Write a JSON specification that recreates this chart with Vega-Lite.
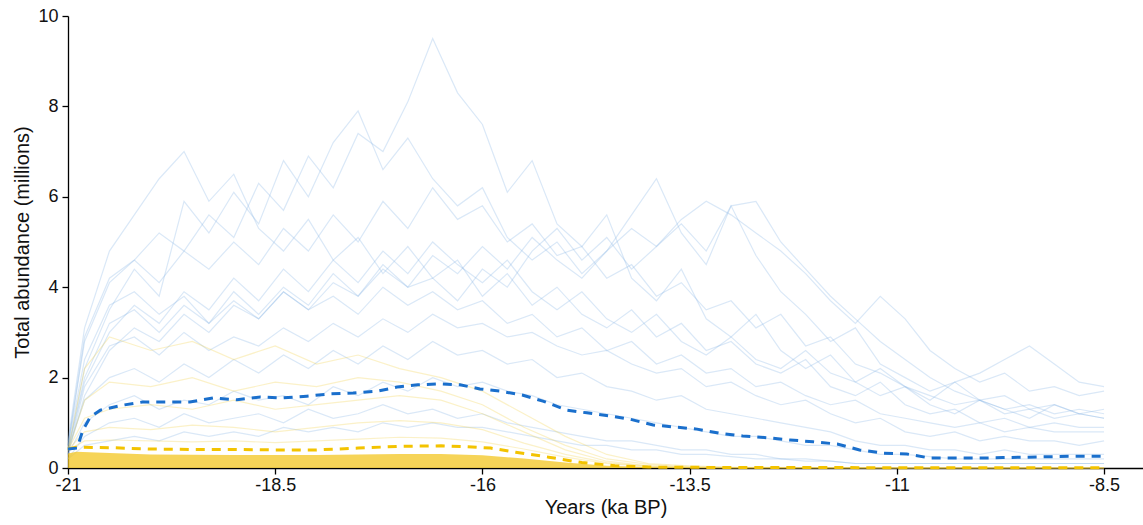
{
 "$schema": "https://vega.github.io/schema/vega-lite/v6.json",
 "width": 1075, "height": 452,
 "autosize": {"type": "none"},
 "padding": {"left": 68, "top": 16, "right": 0, "bottom": 57},
 "background": "white",
 "config": {"view": {"stroke": null}, "font": "Liberation Sans",
  "axis": {"domainColor": "#000", "tickColor": "#000", "labelColor": "#111", "titleColor": "#111", "grid": false, "labelFontSize": 18, "titleFontSize": 20, "titleFontWeight": "normal", "tickSize": 6, "domainWidth": 1.3, "tickWidth": 1.3}},
 "datasets": {
  "blue": [
{"g":"b1","x":-21,"y":0.5},{"g":"b1","x":-20.8,"y":2.8},{"g":"b1","x":-20.5,"y":4.1},{"g":"b1","x":-20.2,"y":4.6},{"g":"b1","x":-19.9,"y":5.2},{"g":"b1","x":-19.6,"y":4.8},{"g":"b1","x":-19.3,"y":5.6},{"g":"b1","x":-19,"y":5.1},{"g":"b1","x":-18.7,"y":6.3},{"g":"b1","x":-18.4,"y":5.7},{"g":"b1","x":-18.1,"y":6.9},{"g":"b1","x":-17.8,"y":6.2},{"g":"b1","x":-17.5,"y":7.4},{"g":"b1","x":-17.2,"y":7.0},{"g":"b1","x":-16.9,"y":8.1},{"g":"b1","x":-16.6,"y":9.5},{"g":"b1","x":-16.3,"y":8.3},{"g":"b1","x":-16,"y":7.6},{"g":"b1","x":-15.7,"y":6.1},{"g":"b1","x":-15.4,"y":6.8},{"g":"b1","x":-15.1,"y":5.4},{"g":"b1","x":-14.8,"y":4.9},{"g":"b1","x":-14.5,"y":5.6},{"g":"b1","x":-14.2,"y":4.2},{"g":"b1","x":-13.9,"y":3.7},{"g":"b1","x":-13.6,"y":4.4},{"g":"b1","x":-13.3,"y":3.3},{"g":"b1","x":-13,"y":2.9},{"g":"b1","x":-12.7,"y":3.4},{"g":"b1","x":-12.4,"y":2.6},{"g":"b1","x":-12.1,"y":2.2},{"g":"b1","x":-11.8,"y":2.5},{"g":"b1","x":-11.5,"y":1.9},{"g":"b1","x":-11.2,"y":1.6},{"g":"b1","x":-10.9,"y":1.8},{"g":"b1","x":-10.6,"y":1.4},{"g":"b1","x":-10.3,"y":1.2},{"g":"b1","x":-10,"y":1.5},{"g":"b1","x":-9.7,"y":1.3},{"g":"b1","x":-9.4,"y":1.1},{"g":"b1","x":-9.1,"y":1.4},{"g":"b1","x":-8.8,"y":1.2},{"g":"b1","x":-8.5,"y":1.3},
{"g":"b2","x":-21,"y":0.4},{"g":"b2","x":-20.8,"y":2.2},{"g":"b2","x":-20.5,"y":3.5},{"g":"b2","x":-20.2,"y":4.4},{"g":"b2","x":-19.9,"y":3.8},{"g":"b2","x":-19.6,"y":5.9},{"g":"b2","x":-19.3,"y":5.2},{"g":"b2","x":-19,"y":6.1},{"g":"b2","x":-18.7,"y":5.4},{"g":"b2","x":-18.4,"y":6.8},{"g":"b2","x":-18.1,"y":6.0},{"g":"b2","x":-17.8,"y":7.2},{"g":"b2","x":-17.5,"y":7.9},{"g":"b2","x":-17.2,"y":6.6},{"g":"b2","x":-16.9,"y":7.3},{"g":"b2","x":-16.6,"y":6.4},{"g":"b2","x":-16.3,"y":5.8},{"g":"b2","x":-16,"y":6.2},{"g":"b2","x":-15.7,"y":5.1},{"g":"b2","x":-15.4,"y":4.6},{"g":"b2","x":-15.1,"y":5.0},{"g":"b2","x":-14.8,"y":4.3},{"g":"b2","x":-14.5,"y":4.8},{"g":"b2","x":-14.2,"y":5.6},{"g":"b2","x":-13.9,"y":6.4},{"g":"b2","x":-13.6,"y":5.2},{"g":"b2","x":-13.3,"y":4.5},{"g":"b2","x":-13,"y":5.8},{"g":"b2","x":-12.7,"y":4.7},{"g":"b2","x":-12.4,"y":3.9},{"g":"b2","x":-12.1,"y":3.4},{"g":"b2","x":-11.8,"y":2.8},{"g":"b2","x":-11.5,"y":3.1},{"g":"b2","x":-11.2,"y":2.3},{"g":"b2","x":-10.9,"y":2.0},{"g":"b2","x":-10.6,"y":1.7},{"g":"b2","x":-10.3,"y":1.9},{"g":"b2","x":-10,"y":1.5},{"g":"b2","x":-9.7,"y":1.6},{"g":"b2","x":-9.4,"y":1.3},{"g":"b2","x":-9.1,"y":1.4},{"g":"b2","x":-8.8,"y":1.2},{"g":"b2","x":-8.5,"y":1.1},
{"g":"b3","x":-21,"y":0.6},{"g":"b3","x":-20.8,"y":3.1},{"g":"b3","x":-20.5,"y":4.8},{"g":"b3","x":-20.2,"y":5.6},{"g":"b3","x":-19.9,"y":6.4},{"g":"b3","x":-19.6,"y":7.0},{"g":"b3","x":-19.3,"y":5.9},{"g":"b3","x":-19,"y":6.5},{"g":"b3","x":-18.7,"y":5.3},{"g":"b3","x":-18.4,"y":4.8},{"g":"b3","x":-18.1,"y":5.5},{"g":"b3","x":-17.8,"y":4.6},{"g":"b3","x":-17.5,"y":5.1},{"g":"b3","x":-17.2,"y":4.3},{"g":"b3","x":-16.9,"y":4.9},{"g":"b3","x":-16.6,"y":4.2},{"g":"b3","x":-16.3,"y":4.6},{"g":"b3","x":-16,"y":3.8},{"g":"b3","x":-15.7,"y":4.3},{"g":"b3","x":-15.4,"y":3.6},{"g":"b3","x":-15.1,"y":4.0},{"g":"b3","x":-14.8,"y":3.4},{"g":"b3","x":-14.5,"y":3.1},{"g":"b3","x":-14.2,"y":3.5},{"g":"b3","x":-13.9,"y":2.9},{"g":"b3","x":-13.6,"y":3.2},{"g":"b3","x":-13.3,"y":2.6},{"g":"b3","x":-13,"y":2.8},{"g":"b3","x":-12.7,"y":2.3},{"g":"b3","x":-12.4,"y":2.1},{"g":"b3","x":-12.1,"y":2.4},{"g":"b3","x":-11.8,"y":1.8},{"g":"b3","x":-11.5,"y":1.6},{"g":"b3","x":-11.2,"y":1.9},{"g":"b3","x":-10.9,"y":1.4},{"g":"b3","x":-10.6,"y":1.2},{"g":"b3","x":-10.3,"y":1.3},{"g":"b3","x":-10,"y":1.0},{"g":"b3","x":-9.7,"y":1.1},{"g":"b3","x":-9.4,"y":0.9},{"g":"b3","x":-9.1,"y":1.0},{"g":"b3","x":-8.8,"y":0.9},{"g":"b3","x":-8.5,"y":0.9},
{"g":"b4","x":-21,"y":0.3},{"g":"b4","x":-20.8,"y":1.6},{"g":"b4","x":-20.5,"y":2.6},{"g":"b4","x":-20.2,"y":3.1},{"g":"b4","x":-19.9,"y":2.8},{"g":"b4","x":-19.6,"y":3.4},{"g":"b4","x":-19.3,"y":3.0},{"g":"b4","x":-19,"y":3.6},{"g":"b4","x":-18.7,"y":3.3},{"g":"b4","x":-18.4,"y":3.9},{"g":"b4","x":-18.1,"y":3.5},{"g":"b4","x":-17.8,"y":4.1},{"g":"b4","x":-17.5,"y":3.8},{"g":"b4","x":-17.2,"y":4.4},{"g":"b4","x":-16.9,"y":4.0},{"g":"b4","x":-16.6,"y":4.7},{"g":"b4","x":-16.3,"y":4.3},{"g":"b4","x":-16,"y":4.9},{"g":"b4","x":-15.7,"y":4.4},{"g":"b4","x":-15.4,"y":5.1},{"g":"b4","x":-15.1,"y":4.6},{"g":"b4","x":-14.8,"y":4.2},{"g":"b4","x":-14.5,"y":4.8},{"g":"b4","x":-14.2,"y":5.3},{"g":"b4","x":-13.9,"y":4.9},{"g":"b4","x":-13.6,"y":5.5},{"g":"b4","x":-13.3,"y":5.9},{"g":"b4","x":-13,"y":5.6},{"g":"b4","x":-12.7,"y":5.2},{"g":"b4","x":-12.4,"y":4.8},{"g":"b4","x":-12.1,"y":4.3},{"g":"b4","x":-11.8,"y":3.7},{"g":"b4","x":-11.5,"y":3.2},{"g":"b4","x":-11.2,"y":3.8},{"g":"b4","x":-10.9,"y":3.3},{"g":"b4","x":-10.6,"y":2.6},{"g":"b4","x":-10.3,"y":2.2},{"g":"b4","x":-10,"y":1.9},{"g":"b4","x":-9.7,"y":2.1},{"g":"b4","x":-9.4,"y":1.7},{"g":"b4","x":-9.1,"y":1.8},{"g":"b4","x":-8.8,"y":1.6},{"g":"b4","x":-8.5,"y":1.7},
{"g":"b5","x":-21,"y":0.4},{"g":"b5","x":-20.8,"y":1.9},{"g":"b5","x":-20.5,"y":3.0},{"g":"b5","x":-20.2,"y":3.6},{"g":"b5","x":-19.9,"y":3.2},{"g":"b5","x":-19.6,"y":3.9},{"g":"b5","x":-19.3,"y":3.5},{"g":"b5","x":-19,"y":4.2},{"g":"b5","x":-18.7,"y":3.7},{"g":"b5","x":-18.4,"y":4.4},{"g":"b5","x":-18.1,"y":3.9},{"g":"b5","x":-17.8,"y":4.6},{"g":"b5","x":-17.5,"y":4.1},{"g":"b5","x":-17.2,"y":4.8},{"g":"b5","x":-16.9,"y":4.3},{"g":"b5","x":-16.6,"y":5.0},{"g":"b5","x":-16.3,"y":4.5},{"g":"b5","x":-16,"y":4.1},{"g":"b5","x":-15.7,"y":4.6},{"g":"b5","x":-15.4,"y":3.9},{"g":"b5","x":-15.1,"y":3.5},{"g":"b5","x":-14.8,"y":3.9},{"g":"b5","x":-14.5,"y":3.3},{"g":"b5","x":-14.2,"y":3.0},{"g":"b5","x":-13.9,"y":3.4},{"g":"b5","x":-13.6,"y":2.8},{"g":"b5","x":-13.3,"y":2.5},{"g":"b5","x":-13,"y":2.9},{"g":"b5","x":-12.7,"y":2.4},{"g":"b5","x":-12.4,"y":2.2},{"g":"b5","x":-12.1,"y":2.6},{"g":"b5","x":-11.8,"y":2.1},{"g":"b5","x":-11.5,"y":1.9},{"g":"b5","x":-11.2,"y":2.2},{"g":"b5","x":-10.9,"y":1.8},{"g":"b5","x":-10.6,"y":1.5},{"g":"b5","x":-10.3,"y":1.9},{"g":"b5","x":-10,"y":2.1},{"g":"b5","x":-9.7,"y":2.4},{"g":"b5","x":-9.4,"y":2.7},{"g":"b5","x":-9.1,"y":2.3},{"g":"b5","x":-8.8,"y":1.9},{"g":"b5","x":-8.5,"y":1.8},
{"g":"b6","x":-21,"y":0.5},{"g":"b6","x":-20.8,"y":2.4},{"g":"b6","x":-20.5,"y":3.6},{"g":"b6","x":-20.2,"y":3.9},{"g":"b6","x":-19.9,"y":3.4},{"g":"b6","x":-19.6,"y":3.8},{"g":"b6","x":-19.3,"y":3.2},{"g":"b6","x":-19,"y":3.7},{"g":"b6","x":-18.7,"y":3.3},{"g":"b6","x":-18.4,"y":3.9},{"g":"b6","x":-18.1,"y":3.5},{"g":"b6","x":-17.8,"y":3.8},{"g":"b6","x":-17.5,"y":3.4},{"g":"b6","x":-17.2,"y":4.0},{"g":"b6","x":-16.9,"y":3.6},{"g":"b6","x":-16.6,"y":3.9},{"g":"b6","x":-16.3,"y":3.5},{"g":"b6","x":-16,"y":3.7},{"g":"b6","x":-15.7,"y":3.2},{"g":"b6","x":-15.4,"y":3.4},{"g":"b6","x":-15.1,"y":2.9},{"g":"b6","x":-14.8,"y":3.1},{"g":"b6","x":-14.5,"y":2.6},{"g":"b6","x":-14.2,"y":2.8},{"g":"b6","x":-13.9,"y":2.3},{"g":"b6","x":-13.6,"y":2.5},{"g":"b6","x":-13.3,"y":2.1},{"g":"b6","x":-13,"y":2.2},{"g":"b6","x":-12.7,"y":1.8},{"g":"b6","x":-12.4,"y":1.9},{"g":"b6","x":-12.1,"y":1.6},{"g":"b6","x":-11.8,"y":1.4},{"g":"b6","x":-11.5,"y":1.5},{"g":"b6","x":-11.2,"y":1.2},{"g":"b6","x":-10.9,"y":1.1},{"g":"b6","x":-10.6,"y":1.0},{"g":"b6","x":-10.3,"y":0.9},{"g":"b6","x":-10,"y":1.0},{"g":"b6","x":-9.7,"y":0.8},{"g":"b6","x":-9.4,"y":0.9},{"g":"b6","x":-9.1,"y":0.8},{"g":"b6","x":-8.8,"y":0.8},{"g":"b6","x":-8.5,"y":0.8},
{"g":"b7","x":-21,"y":0.3},{"g":"b7","x":-20.8,"y":1.8},{"g":"b7","x":-20.5,"y":2.7},{"g":"b7","x":-20.2,"y":2.9},{"g":"b7","x":-19.9,"y":2.5},{"g":"b7","x":-19.6,"y":3.0},{"g":"b7","x":-19.3,"y":2.6},{"g":"b7","x":-19,"y":2.9},{"g":"b7","x":-18.7,"y":2.7},{"g":"b7","x":-18.4,"y":3.1},{"g":"b7","x":-18.1,"y":2.8},{"g":"b7","x":-17.8,"y":3.2},{"g":"b7","x":-17.5,"y":2.9},{"g":"b7","x":-17.2,"y":3.3},{"g":"b7","x":-16.9,"y":3.0},{"g":"b7","x":-16.6,"y":3.4},{"g":"b7","x":-16.3,"y":3.1},{"g":"b7","x":-16,"y":3.2},{"g":"b7","x":-15.7,"y":2.9},{"g":"b7","x":-15.4,"y":3.0},{"g":"b7","x":-15.1,"y":2.7},{"g":"b7","x":-14.8,"y":2.5},{"g":"b7","x":-14.5,"y":2.6},{"g":"b7","x":-14.2,"y":2.3},{"g":"b7","x":-13.9,"y":2.1},{"g":"b7","x":-13.6,"y":2.2},{"g":"b7","x":-13.3,"y":1.8},{"g":"b7","x":-13,"y":1.9},{"g":"b7","x":-12.7,"y":1.6},{"g":"b7","x":-12.4,"y":1.4},{"g":"b7","x":-12.1,"y":1.5},{"g":"b7","x":-11.8,"y":1.2},{"g":"b7","x":-11.5,"y":1.0},{"g":"b7","x":-11.2,"y":1.1},{"g":"b7","x":-10.9,"y":0.8},{"g":"b7","x":-10.6,"y":0.7},{"g":"b7","x":-10.3,"y":0.8},{"g":"b7","x":-10,"y":0.6},{"g":"b7","x":-9.7,"y":0.7},{"g":"b7","x":-9.4,"y":0.6},{"g":"b7","x":-9.1,"y":0.6},{"g":"b7","x":-8.8,"y":0.5},{"g":"b7","x":-8.5,"y":0.6},
{"g":"b8","x":-21,"y":0.4},{"g":"b8","x":-20.8,"y":1.5},{"g":"b8","x":-20.5,"y":2.0},{"g":"b8","x":-20.2,"y":2.2},{"g":"b8","x":-19.9,"y":1.9},{"g":"b8","x":-19.6,"y":2.3},{"g":"b8","x":-19.3,"y":2.0},{"g":"b8","x":-19,"y":2.4},{"g":"b8","x":-18.7,"y":2.1},{"g":"b8","x":-18.4,"y":2.5},{"g":"b8","x":-18.1,"y":2.2},{"g":"b8","x":-17.8,"y":2.6},{"g":"b8","x":-17.5,"y":2.3},{"g":"b8","x":-17.2,"y":2.7},{"g":"b8","x":-16.9,"y":2.4},{"g":"b8","x":-16.6,"y":2.8},{"g":"b8","x":-16.3,"y":2.5},{"g":"b8","x":-16,"y":2.6},{"g":"b8","x":-15.7,"y":2.3},{"g":"b8","x":-15.4,"y":2.4},{"g":"b8","x":-15.1,"y":2.0},{"g":"b8","x":-14.8,"y":2.1},{"g":"b8","x":-14.5,"y":1.8},{"g":"b8","x":-14.2,"y":1.7},{"g":"b8","x":-13.9,"y":1.5},{"g":"b8","x":-13.6,"y":1.6},{"g":"b8","x":-13.3,"y":1.3},{"g":"b8","x":-13,"y":1.2},{"g":"b8","x":-12.7,"y":1.1},{"g":"b8","x":-12.4,"y":1.0},{"g":"b8","x":-12.1,"y":0.9},{"g":"b8","x":-11.8,"y":0.8},{"g":"b8","x":-11.5,"y":0.6},{"g":"b8","x":-11.2,"y":0.5},{"g":"b8","x":-10.9,"y":0.5},{"g":"b8","x":-10.6,"y":0.4},{"g":"b8","x":-10.3,"y":0.4},{"g":"b8","x":-10,"y":0.3},{"g":"b8","x":-9.7,"y":0.4},{"g":"b8","x":-9.4,"y":0.3},{"g":"b8","x":-9.1,"y":0.3},{"g":"b8","x":-8.8,"y":0.3},{"g":"b8","x":-8.5,"y":0.3},
{"g":"b9","x":-21,"y":0.3},{"g":"b9","x":-20.8,"y":1.0},{"g":"b9","x":-20.5,"y":1.4},{"g":"b9","x":-20.2,"y":1.6},{"g":"b9","x":-19.9,"y":1.3},{"g":"b9","x":-19.6,"y":1.5},{"g":"b9","x":-19.3,"y":1.4},{"g":"b9","x":-19,"y":1.7},{"g":"b9","x":-18.7,"y":1.5},{"g":"b9","x":-18.4,"y":1.6},{"g":"b9","x":-18.1,"y":1.4},{"g":"b9","x":-17.8,"y":1.8},{"g":"b9","x":-17.5,"y":1.6},{"g":"b9","x":-17.2,"y":1.9},{"g":"b9","x":-16.9,"y":1.7},{"g":"b9","x":-16.6,"y":2.0},{"g":"b9","x":-16.3,"y":1.8},{"g":"b9","x":-16,"y":1.9},{"g":"b9","x":-15.7,"y":1.7},{"g":"b9","x":-15.4,"y":1.6},{"g":"b9","x":-15.1,"y":1.4},{"g":"b9","x":-14.8,"y":1.3},{"g":"b9","x":-14.5,"y":1.2},{"g":"b9","x":-14.2,"y":1.1},{"g":"b9","x":-13.9,"y":1.0},{"g":"b9","x":-13.6,"y":0.9},{"g":"b9","x":-13.3,"y":0.8},{"g":"b9","x":-13,"y":0.7},{"g":"b9","x":-12.7,"y":0.7},{"g":"b9","x":-12.4,"y":0.6},{"g":"b9","x":-12.1,"y":0.5},{"g":"b9","x":-11.8,"y":0.5},{"g":"b9","x":-11.5,"y":0.4},{"g":"b9","x":-11.2,"y":0.3},{"g":"b9","x":-10.9,"y":0.3},{"g":"b9","x":-10.6,"y":0.25},{"g":"b9","x":-10.3,"y":0.2},{"g":"b9","x":-10,"y":0.2},{"g":"b9","x":-9.7,"y":0.2},{"g":"b9","x":-9.4,"y":0.2},{"g":"b9","x":-9.1,"y":0.2},{"g":"b9","x":-8.8,"y":0.2},{"g":"b9","x":-8.5,"y":0.2},
{"g":"b10","x":-21,"y":0.2},{"g":"b10","x":-20.8,"y":0.7},{"g":"b10","x":-20.5,"y":1.0},{"g":"b10","x":-20.2,"y":1.1},{"g":"b10","x":-19.9,"y":0.9},{"g":"b10","x":-19.6,"y":1.2},{"g":"b10","x":-19.3,"y":1.0},{"g":"b10","x":-19,"y":1.1},{"g":"b10","x":-18.7,"y":1.2},{"g":"b10","x":-18.4,"y":1.0},{"g":"b10","x":-18.1,"y":1.3},{"g":"b10","x":-17.8,"y":1.1},{"g":"b10","x":-17.5,"y":1.2},{"g":"b10","x":-17.2,"y":1.4},{"g":"b10","x":-16.9,"y":1.2},{"g":"b10","x":-16.6,"y":1.3},{"g":"b10","x":-16.3,"y":1.1},{"g":"b10","x":-16,"y":1.2},{"g":"b10","x":-15.7,"y":1.0},{"g":"b10","x":-15.4,"y":0.9},{"g":"b10","x":-15.1,"y":0.8},{"g":"b10","x":-14.8,"y":0.7},{"g":"b10","x":-14.5,"y":0.6},{"g":"b10","x":-14.2,"y":0.6},{"g":"b10","x":-13.9,"y":0.5},{"g":"b10","x":-13.6,"y":0.4},{"g":"b10","x":-13.3,"y":0.4},{"g":"b10","x":-13,"y":0.3},{"g":"b10","x":-12.7,"y":0.3},{"g":"b10","x":-12.4,"y":0.2},{"g":"b10","x":-12.1,"y":0.2},{"g":"b10","x":-11.8,"y":0.15},{"g":"b10","x":-11.5,"y":0.1},{"g":"b10","x":-11.2,"y":0.1},{"g":"b10","x":-10.9,"y":0.1},{"g":"b10","x":-10.6,"y":0.1},{"g":"b10","x":-10.3,"y":0.1},{"g":"b10","x":-10,"y":0.1},{"g":"b10","x":-9.7,"y":0.1},{"g":"b10","x":-9.4,"y":0.1},{"g":"b10","x":-9.1,"y":0.1},{"g":"b10","x":-8.8,"y":0.1},{"g":"b10","x":-8.5,"y":0.1},
{"g":"b11","x":-21,"y":0.5},{"g":"b11","x":-20.8,"y":2.9},{"g":"b11","x":-20.5,"y":4.2},{"g":"b11","x":-20.2,"y":4.6},{"g":"b11","x":-19.9,"y":4.1},{"g":"b11","x":-19.6,"y":4.8},{"g":"b11","x":-19.3,"y":4.4},{"g":"b11","x":-19,"y":5.0},{"g":"b11","x":-18.7,"y":4.5},{"g":"b11","x":-18.4,"y":5.3},{"g":"b11","x":-18.1,"y":4.8},{"g":"b11","x":-17.8,"y":5.6},{"g":"b11","x":-17.5,"y":5.0},{"g":"b11","x":-17.2,"y":5.9},{"g":"b11","x":-16.9,"y":5.3},{"g":"b11","x":-16.6,"y":6.2},{"g":"b11","x":-16.3,"y":5.5},{"g":"b11","x":-16,"y":5.8},{"g":"b11","x":-15.7,"y":5.0},{"g":"b11","x":-15.4,"y":5.4},{"g":"b11","x":-15.1,"y":4.7},{"g":"b11","x":-14.8,"y":4.9},{"g":"b11","x":-14.5,"y":4.2},{"g":"b11","x":-14.2,"y":4.5},{"g":"b11","x":-13.9,"y":3.8},{"g":"b11","x":-13.6,"y":4.1},{"g":"b11","x":-13.3,"y":3.5},{"g":"b11","x":-13,"y":3.7},{"g":"b11","x":-12.7,"y":3.1},{"g":"b11","x":-12.4,"y":3.4},{"g":"b11","x":-12.1,"y":2.7},{"g":"b11","x":-11.8,"y":2.9},{"g":"b11","x":-11.5,"y":2.3},{"g":"b11","x":-11.2,"y":2.1},{"g":"b11","x":-10.9,"y":1.8},{"g":"b11","x":-10.6,"y":1.6},{"g":"b11","x":-10.3,"y":1.4},{"g":"b11","x":-10,"y":1.5},{"g":"b11","x":-9.7,"y":1.2},{"g":"b11","x":-9.4,"y":1.3},{"g":"b11","x":-9.1,"y":1.1},{"g":"b11","x":-8.8,"y":1.2},{"g":"b11","x":-8.5,"y":1.1},
{"g":"b12","x":-21,"y":0.4},{"g":"b12","x":-20.8,"y":2.0},{"g":"b12","x":-20.5,"y":3.2},{"g":"b12","x":-20.2,"y":3.5},{"g":"b12","x":-19.9,"y":3.0},{"g":"b12","x":-19.6,"y":3.6},{"g":"b12","x":-19.3,"y":3.2},{"g":"b12","x":-19,"y":3.9},{"g":"b12","x":-18.7,"y":3.4},{"g":"b12","x":-18.4,"y":4.0},{"g":"b12","x":-18.1,"y":3.6},{"g":"b12","x":-17.8,"y":4.3},{"g":"b12","x":-17.5,"y":3.8},{"g":"b12","x":-17.2,"y":4.5},{"g":"b12","x":-16.9,"y":4.0},{"g":"b12","x":-16.6,"y":4.2},{"g":"b12","x":-16.3,"y":3.7},{"g":"b12","x":-16,"y":4.4},{"g":"b12","x":-15.7,"y":4.0},{"g":"b12","x":-15.4,"y":4.8},{"g":"b12","x":-15.1,"y":5.3},{"g":"b12","x":-14.8,"y":4.6},{"g":"b12","x":-14.5,"y":5.1},{"g":"b12","x":-14.2,"y":4.4},{"g":"b12","x":-13.9,"y":4.9},{"g":"b12","x":-13.6,"y":5.4},{"g":"b12","x":-13.3,"y":4.8},{"g":"b12","x":-13,"y":5.8},{"g":"b12","x":-12.7,"y":5.9},{"g":"b12","x":-12.4,"y":5.0},{"g":"b12","x":-12.1,"y":4.4},{"g":"b12","x":-11.8,"y":3.8},{"g":"b12","x":-11.5,"y":3.3},{"g":"b12","x":-11.2,"y":2.8},{"g":"b12","x":-10.9,"y":2.4},{"g":"b12","x":-10.6,"y":2.0},{"g":"b12","x":-10.3,"y":1.7},{"g":"b12","x":-10,"y":1.5},{"g":"b12","x":-9.7,"y":1.3},{"g":"b12","x":-9.4,"y":1.4},{"g":"b12","x":-9.1,"y":1.2},{"g":"b12","x":-8.8,"y":1.3},{"g":"b12","x":-8.5,"y":1.2},
{"g":"b13","x":-21,"y":0.2},{"g":"b13","x":-20.8,"y":0.5},{"g":"b13","x":-20.5,"y":0.6},{"g":"b13","x":-20.2,"y":0.7},{"g":"b13","x":-19.9,"y":0.6},{"g":"b13","x":-19.6,"y":0.8},{"g":"b13","x":-19.3,"y":0.7},{"g":"b13","x":-19,"y":0.8},{"g":"b13","x":-18.7,"y":0.7},{"g":"b13","x":-18.4,"y":0.9},{"g":"b13","x":-18.1,"y":0.8},{"g":"b13","x":-17.8,"y":0.9},{"g":"b13","x":-17.5,"y":0.8},{"g":"b13","x":-17.2,"y":1.0},{"g":"b13","x":-16.9,"y":0.9},{"g":"b13","x":-16.6,"y":1.0},{"g":"b13","x":-16.3,"y":0.9},{"g":"b13","x":-16,"y":0.9},{"g":"b13","x":-15.7,"y":0.8},{"g":"b13","x":-15.4,"y":0.7},{"g":"b13","x":-15.1,"y":0.6},{"g":"b13","x":-14.8,"y":0.5},{"g":"b13","x":-14.5,"y":0.5},{"g":"b13","x":-14.2,"y":0.4},{"g":"b13","x":-13.9,"y":0.4},{"g":"b13","x":-13.6,"y":0.3},{"g":"b13","x":-13.3,"y":0.3},{"g":"b13","x":-13,"y":0.25},{"g":"b13","x":-12.7,"y":0.2},{"g":"b13","x":-12.4,"y":0.2},{"g":"b13","x":-12.1,"y":0.15},{"g":"b13","x":-11.8,"y":0.15},{"g":"b13","x":-11.5,"y":0.1},{"g":"b13","x":-11.2,"y":0.1},{"g":"b13","x":-10.9,"y":0.1},{"g":"b13","x":-10.6,"y":0.1},{"g":"b13","x":-10.3,"y":0.1},{"g":"b13","x":-10,"y":0.1},{"g":"b13","x":-9.7,"y":0.1},{"g":"b13","x":-9.4,"y":0.1},{"g":"b13","x":-9.1,"y":0.1},{"g":"b13","x":-8.8,"y":0.1},{"g":"b13","x":-8.5,"y":0.1}
  ],
  "yellow": [
{"g":"y1","x":-21,"y":0.4},{"g":"y1","x":-20.8,"y":2.2},{"g":"y1","x":-20.5,"y":2.9},{"g":"y1","x":-20,"y":2.6},{"g":"y1","x":-19.5,"y":2.8},{"g":"y1","x":-19,"y":2.4},{"g":"y1","x":-18.5,"y":2.7},{"g":"y1","x":-18,"y":2.3},{"g":"y1","x":-17.5,"y":2.5},{"g":"y1","x":-17,"y":2.2},{"g":"y1","x":-16.5,"y":2.0},{"g":"y1","x":-16,"y":1.7},{"g":"y1","x":-15.5,"y":1.2},{"g":"y1","x":-15,"y":0.7},{"g":"y1","x":-14.5,"y":0.3},{"g":"y1","x":-14,"y":0.1},{"g":"y1","x":-13.5,"y":0.05},{"g":"y1","x":-13,"y":0.02},{"g":"y1","x":-11,"y":0},{"g":"y1","x":-8.5,"y":0},
{"g":"y2","x":-21,"y":0.4},{"g":"y2","x":-20.8,"y":1.5},{"g":"y2","x":-20.5,"y":1.9},{"g":"y2","x":-20,"y":1.8},{"g":"y2","x":-19.5,"y":2.0},{"g":"y2","x":-19,"y":1.7},{"g":"y2","x":-18.5,"y":1.9},{"g":"y2","x":-18,"y":1.8},{"g":"y2","x":-17.5,"y":2.0},{"g":"y2","x":-17,"y":1.9},{"g":"y2","x":-16.5,"y":1.7},{"g":"y2","x":-16,"y":1.4},{"g":"y2","x":-15.5,"y":0.9},{"g":"y2","x":-15,"y":0.5},{"g":"y2","x":-14.5,"y":0.2},{"g":"y2","x":-14,"y":0.08},{"g":"y2","x":-13.5,"y":0.03},{"g":"y2","x":-13,"y":0.01},{"g":"y2","x":-11,"y":0},{"g":"y2","x":-8.5,"y":0},
{"g":"y3","x":-21,"y":0.4},{"g":"y3","x":-20.8,"y":1.1},{"g":"y3","x":-20.5,"y":1.3},{"g":"y3","x":-20,"y":1.4},{"g":"y3","x":-19.5,"y":1.3},{"g":"y3","x":-19,"y":1.5},{"g":"y3","x":-18.5,"y":1.3},{"g":"y3","x":-18,"y":1.4},{"g":"y3","x":-17.5,"y":1.5},{"g":"y3","x":-17,"y":1.6},{"g":"y3","x":-16.5,"y":1.5},{"g":"y3","x":-16,"y":1.2},{"g":"y3","x":-15.5,"y":0.8},{"g":"y3","x":-15,"y":0.4},{"g":"y3","x":-14.5,"y":0.15},{"g":"y3","x":-14,"y":0.05},{"g":"y3","x":-13.5,"y":0.02},{"g":"y3","x":-13,"y":0.01},{"g":"y3","x":-11,"y":0},{"g":"y3","x":-8.5,"y":0},
{"g":"y4","x":-21,"y":0.4},{"g":"y4","x":-20.8,"y":0.8},{"g":"y4","x":-20.5,"y":0.9},{"g":"y4","x":-20,"y":0.85},{"g":"y4","x":-19.5,"y":0.95},{"g":"y4","x":-19,"y":0.9},{"g":"y4","x":-18.5,"y":0.8},{"g":"y4","x":-18,"y":0.9},{"g":"y4","x":-17.5,"y":1.0},{"g":"y4","x":-17,"y":1.05},{"g":"y4","x":-16.5,"y":1.0},{"g":"y4","x":-16,"y":0.85},{"g":"y4","x":-15.5,"y":0.55},{"g":"y4","x":-15,"y":0.3},{"g":"y4","x":-14.5,"y":0.12},{"g":"y4","x":-14,"y":0.04},{"g":"y4","x":-13.5,"y":0.01},{"g":"y4","x":-13,"y":0},{"g":"y4","x":-11,"y":0},{"g":"y4","x":-8.5,"y":0},
{"g":"y5","x":-21,"y":0.4},{"g":"y5","x":-20.8,"y":0.6},{"g":"y5","x":-20.5,"y":0.62},{"g":"y5","x":-20,"y":0.6},{"g":"y5","x":-19.5,"y":0.58},{"g":"y5","x":-19,"y":0.6},{"g":"y5","x":-18.5,"y":0.56},{"g":"y5","x":-18,"y":0.6},{"g":"y5","x":-17.5,"y":0.64},{"g":"y5","x":-17,"y":0.68},{"g":"y5","x":-16.5,"y":0.66},{"g":"y5","x":-16,"y":0.58},{"g":"y5","x":-15.5,"y":0.42},{"g":"y5","x":-15,"y":0.24},{"g":"y5","x":-14.5,"y":0.1},{"g":"y5","x":-14,"y":0.03},{"g":"y5","x":-13.5,"y":0.01},{"g":"y5","x":-13,"y":0},{"g":"y5","x":-11,"y":0},{"g":"y5","x":-8.5,"y":0}
  ],
  "band": [
{"x":-21,"y":0.32},{"x":-20.9,"y":0.36},{"x":-20.5,"y":0.33},{"x":-20,"y":0.3},{"x":-19,"y":0.29},{"x":-18,"y":0.29},{"x":-17,"y":0.31},{"x":-16.5,"y":0.31},{"x":-16,"y":0.28},{"x":-15.5,"y":0.21},{"x":-15,"y":0.12},{"x":-14.5,"y":0.05},{"x":-14,"y":0.02},{"x":-13.5,"y":0.012},{"x":-13,"y":0.008},{"x":-8.5,"y":0.005}
  ],
  "ymed": [
{"x":-21,"y":0.42},{"x":-20.9,"y":0.46},{"x":-20.5,"y":0.45},{"x":-20,"y":0.42},{"x":-19.5,"y":0.41},{"x":-19,"y":0.41},{"x":-18.5,"y":0.4},{"x":-18,"y":0.4},{"x":-17.5,"y":0.44},{"x":-17,"y":0.48},{"x":-16.5,"y":0.49},{"x":-16.2,"y":0.47},{"x":-15.9,"y":0.44},{"x":-15.6,"y":0.35},{"x":-15.2,"y":0.24},{"x":-14.8,"y":0.12},{"x":-14.4,"y":0.05},{"x":-14,"y":0.02},{"x":-13,"y":0.01},{"x":-8.5,"y":0.005}
  ],
  "bmed": [
{"x":-21,"y":0.42},{"x":-20.89,"y":0.44},{"x":-20.82,"y":0.84},{"x":-20.73,"y":1.13},{"x":-20.61,"y":1.28},{"x":-20.34,"y":1.39},{"x":-20.1,"y":1.46},{"x":-19.81,"y":1.46},{"x":-19.53,"y":1.46},{"x":-19.25,"y":1.55},{"x":-18.96,"y":1.51},{"x":-18.68,"y":1.57},{"x":-18.41,"y":1.55},{"x":-18.12,"y":1.59},{"x":-17.84,"y":1.64},{"x":-17.56,"y":1.66},{"x":-17.27,"y":1.7},{"x":-17.03,"y":1.79},{"x":-16.78,"y":1.84},{"x":-16.51,"y":1.86},{"x":-16.27,"y":1.84},{"x":-16.03,"y":1.75},{"x":-15.79,"y":1.7},{"x":-15.51,"y":1.61},{"x":-15.27,"y":1.48},{"x":-14.98,"y":1.28},{"x":-14.74,"y":1.22},{"x":-14.46,"y":1.15},{"x":-14.22,"y":1.08},{"x":-13.94,"y":0.95},{"x":-13.7,"y":0.91},{"x":-13.41,"y":0.86},{"x":-13.14,"y":0.77},{"x":-12.86,"y":0.71},{"x":-12.57,"y":0.67},{"x":-12.29,"y":0.62},{"x":-12.01,"y":0.58},{"x":-11.72,"y":0.53},{"x":-11.45,"y":0.4},{"x":-11.17,"y":0.33},{"x":-10.88,"y":0.31},{"x":-10.6,"y":0.22},{"x":-10.28,"y":0.22},{"x":-10,"y":0.22},{"x":-9.72,"y":0.23},{"x":-9.43,"y":0.24},{"x":-9.15,"y":0.25},{"x":-8.85,"y":0.26},{"x":-8.5,"y":0.26}
  ]
 },
 "encoding": {
  "x": {"field": "x", "type": "quantitative", "scale": {"domain": [-21, -8.03], "nice": false, "zero": false},
   "axis": {"title": "Years (ka BP)", "values": [-21, -18.5, -16, -13.5, -11, -8.5], "labelExpr": "'' + datum.value", "labelPadding": 2, "titlePadding": 3, "labelFlush": false}},
  "y": {"field": "y", "type": "quantitative", "scale": {"domain": [0, 10], "nice": false, "zero": true},
   "axis": {"title": "Total abundance (millions)", "values": [0, 2, 4, 6, 8, 10], "labelPadding": 4, "titlePadding": 5}}
 },
 "layer": [
  {"data": {"name": "blue"}, "mark": {"type": "line", "color": "#8db6e6", "opacity": 0.32, "strokeWidth": 1.2}, "encoding": {"detail": {"field": "g"}}},
  {"data": {"name": "yellow"}, "mark": {"type": "line", "color": "#f2cf4a", "opacity": 0.3, "strokeWidth": 1.2}, "encoding": {"detail": {"field": "g"}}},
  {"data": {"name": "band"}, "mark": {"type": "area", "color": "#f3c620", "opacity": 0.75}, "encoding": {}},
  {"data": {"name": "ymed"}, "mark": {"type": "line", "color": "#f3c300", "strokeWidth": 3, "strokeDash": [9, 7]}, "encoding": {}},
  {"data": {"name": "bmed"}, "mark": {"type": "line", "color": "#1a6fcc", "strokeWidth": 3, "strokeDash": [9, 7]}, "encoding": {}}
 ]
}
